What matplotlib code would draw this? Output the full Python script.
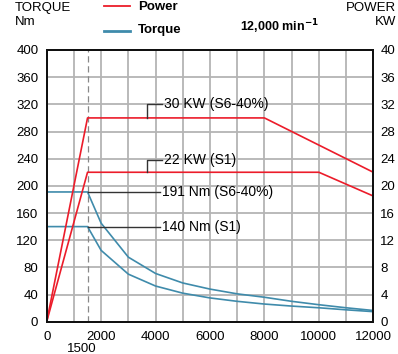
import matplotlib
matplotlib.use("Agg")
import matplotlib.pyplot as plt
import matplotlib.transforms as mtransforms

plt.rcParams['font.family'] = ['Liberation Sans', 'DejaVu Sans']

# Data
speed_power_s6 = [0, 1500, 8000, 12000]
power_s6 = [0, 30, 30, 22]
speed_power_s1 = [0, 1500, 10000, 12000]
power_s1 = [0, 22, 22, 18.5]

speed_torque = [0, 1500, 2000, 3000, 4000, 5000, 6000, 7000, 8000, 9000, 10000, 11000, 12000]
torque_s6 = [191, 191, 145, 95, 71, 57, 48, 41, 36, 30, 25, 20.5, 16.5]
torque_s1 = [140, 140, 105, 70, 52.5, 42, 35, 30, 26, 23, 20.5, 17.5, 14.8]

x_ticks = [0, 2000, 4000, 6000, 8000, 10000, 12000]
y_ticks_left = list(range(0, 401, 40))
y_ticks_right = list(range(0, 41, 4))

RED = '#ec1c2a'
BLUE = '#3f8bab'
GRID = '#b4b4b4'

fig = plt.figure(figsize=(3.98, 3.54), dpi=100)
ax = fig.add_axes([46.7/398, 1-321.7/354, (373.3-46.7)/398, (321.7-50)/354])
ax2 = ax.twinx()

ax.set_xlim(0, 12000)
ax.set_ylim(0, 400)
ax2.set_ylim(0, 40)

ax.set_xticks(x_ticks)
ax.set_xticks(range(0, 12001, 1000), minor=True)
ax.set_yticks(y_ticks_left)
ax2.set_yticks(y_ticks_right)
ax.tick_params(axis='both', which='both', length=0, labelsize=9.5)
ax.tick_params(axis='x', pad=7)
ax.tick_params(axis='y', pad=6)
ax2.tick_params(axis='y', length=0, labelsize=9.5, pad=5)

ax.grid(True, which='both', axis='x', color=GRID, lw=1.3)
ax.grid(True, which='major', axis='y', color=GRID, lw=1.3)
ax.set_axisbelow(True)
for a in (ax, ax2):
    for s in a.spines.values():
        s.set_linewidth(1.4)
        s.set_color('#111111')

ax.axvline(1500, color='#888888', lw=0.9, dashes=(5, 3))

ax.plot(speed_torque, torque_s6, color=BLUE, lw=1.2)
ax.plot(speed_torque, torque_s1, color=BLUE, lw=1.2)
ax2.plot(speed_power_s6, power_s6, color=RED, lw=1.2)
ax2.plot(speed_power_s1, power_s1, color=RED, lw=1.2)

LC = '#333333'
# power annotations
for yv, ytop, txt in [(30, 32.0, '30 KW (S6-40%)'), (22, 23.8, '22 KW (S1)')]:
    ax2.plot([3700, 3700, 4250], [yv, ytop, ytop], color=LC, lw=1.0)
    ax2.text(4300, ytop, txt, fontsize=10, va='center', ha='left')
# torque annotations
for yv, txt in [(191, '191 Nm (S6-40%)'), (140, '140 Nm (S1)')]:
    ax.plot([1500, 4150], [yv, yv], color=LC, lw=1.0)
    ax.text(4250, yv, txt, fontsize=10, va='center', ha='left')

ax.text(1300, -0.077, '1500', fontsize=9.5, ha='center', va='top',
        transform=mtransforms.blended_transform_factory(ax.transData, ax.transAxes))

# header
fig.text(15/398, 1-2/354, 'TORQUE\nNm', fontsize=9.5, ha='left', va='top', linespacing=1.25)
fig.text(396/398, 1-2/354, 'POWER\nKW', fontsize=9.5, ha='right', va='top', linespacing=1.25, multialignment='right')
fig.add_artist(plt.Line2D([104/398, 130/398], [1-6/354, 1-6/354], color=RED, lw=1.3))
fig.add_artist(plt.Line2D([104/398, 130/398], [1-31/354, 1-31/354], color=BLUE, lw=2.0))
fig.text(138/398, 1-1/354, 'Power', fontsize=9.5, fontweight='bold', ha='left', va='top')
fig.text(138/398, 1-29.5/354, 'Torque', fontsize=9.5, fontweight='bold', ha='left', va='center')
fig.text(240/398, 1-27/354, '12,000 min$^{\\mathbf{-1}}$', fontsize=9, fontweight='bold', ha='left', va='center')

fig.savefig('out.png', dpi=100)
